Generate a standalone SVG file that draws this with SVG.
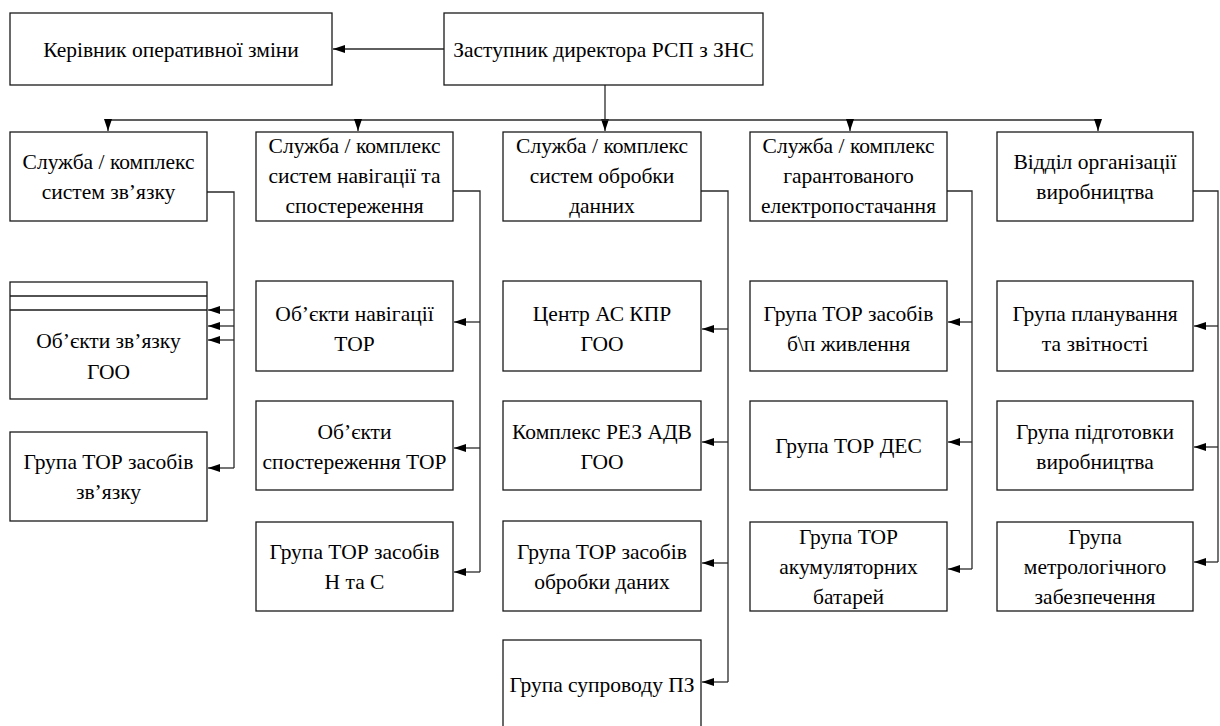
<svg xmlns="http://www.w3.org/2000/svg" width="1220" height="726" viewBox="0 0 1220 726">
  <style>
    .box { fill: #ffffff; stroke: #1a1a1a; stroke-width: 1.3; }
    .lbl { font-size: 21.5px; fill: #000000; text-anchor: middle; }
    .wire { fill: none; stroke: #2a2a2a; stroke-width: 1.3; }
    .arr { marker-end: url(#head); }
  </style>
  <defs>
    <marker id="head" markerUnits="userSpaceOnUse" markerWidth="13" markerHeight="9" refX="12" refY="4" orient="auto">
      <path d="M0,0 L12,4 L0,8 Z" fill="#000000"/>
    </marker>
  </defs>
  <rect x="0" y="0" width="1220" height="726" fill="#ffffff"/>

  <!-- connectors -->
  <g id="connectors">
    <!-- top level -->
    <line class="wire arr" x1="444" y1="49" x2="333" y2="49"/>
    <line class="wire arr" x1="605" y1="85" x2="605" y2="131"/>
    <line class="wire" x1="108" y1="120" x2="1098" y2="120"/>
    <line class="wire arr" x1="108" y1="120" x2="108" y2="131"/>
    <line class="wire arr" x1="358" y1="120" x2="358" y2="131"/>
    <line class="wire arr" x1="850" y1="120" x2="850" y2="131"/>
    <line class="wire arr" x1="1098" y1="120" x2="1098" y2="131"/>

    <!-- column 1 -->
    <polyline class="wire" points="207,192 234,192 234,468"/>
    <line class="wire arr" x1="234" y1="310" x2="208" y2="310"/>
    <line class="wire arr" x1="234" y1="326" x2="208" y2="326"/>
    <line class="wire arr" x1="234" y1="340" x2="208" y2="340"/>
    <line class="wire arr" x1="234" y1="468" x2="208" y2="468"/>

    <!-- column 2 -->
    <polyline class="wire" points="453,191 480,191 480,572"/>
    <line class="wire arr" x1="480" y1="322" x2="454" y2="322"/>
    <line class="wire arr" x1="480" y1="448" x2="454" y2="448"/>
    <line class="wire arr" x1="480" y1="572" x2="454" y2="572"/>

    <!-- column 3 -->
    <polyline class="wire" points="701,191 728,191 728,682"/>
    <line class="wire arr" x1="728" y1="329" x2="702" y2="329"/>
    <line class="wire arr" x1="728" y1="442" x2="702" y2="442"/>
    <line class="wire arr" x1="728" y1="563" x2="702" y2="563"/>
    <line class="wire arr" x1="728" y1="682" x2="702" y2="682"/>

    <!-- column 4 -->
    <polyline class="wire" points="947,191 972,191 972,569"/>
    <line class="wire arr" x1="972" y1="322" x2="948" y2="322"/>
    <line class="wire arr" x1="972" y1="442" x2="948" y2="442"/>
    <line class="wire arr" x1="972" y1="569" x2="948" y2="569"/>

    <!-- column 5 -->
    <polyline class="wire" points="1193,191 1218,191 1218,562"/>
    <line class="wire arr" x1="1218" y1="326" x2="1194" y2="326"/>
    <line class="wire arr" x1="1218" y1="447" x2="1194" y2="447"/>
    <line class="wire arr" x1="1218" y1="562" x2="1194" y2="562"/>
  </g>

  <!-- top row -->
  <g id="n-kerivnyk">
    <rect class="box" x="10" y="13" width="322" height="72"/>
    <text class="lbl" style="font-family:'Liberation Serif'" x="171" y="57">Керівник оперативної зміни</text>
  </g>
  <g id="n-zastupnyk">
    <rect class="box" x="444" y="13" width="319" height="72"/>
    <text class="lbl" style="font-family:'Liberation Serif'" x="603.5" y="57">Заступник директора РСП з ЗНС</text>
  </g>

  <!-- heads of columns -->
  <g id="n-zviazok">
    <rect class="box" x="10" y="132" width="197" height="89"/>
    <text class="lbl" style="font-family:'Liberation Serif'"><tspan x="108.5" y="169">Служба / комплекс</tspan><tspan x="108.5" y="199">систем зв’язку</tspan></text>
  </g>
  <g id="n-navihatsiia">
    <rect class="box" x="256" y="132" width="197" height="89"/>
    <text class="lbl" style="font-family:'Liberation Serif'"><tspan x="354.5" y="153">Служба / комплекс</tspan><tspan x="354.5" y="183">систем навігації та</tspan><tspan x="354.5" y="213">спостереження</tspan></text>
  </g>
  <g id="n-obrobka">
    <rect class="box" x="503" y="132" width="198" height="89"/>
    <text class="lbl" style="font-family:'Liberation Serif'"><tspan x="602" y="153">Служба / комплекс</tspan><tspan x="602" y="183">систем обробки</tspan><tspan x="602" y="213">данних</tspan></text>
  </g>
  <g id="n-elektro">
    <rect class="box" x="750" y="132" width="197" height="89"/>
    <text class="lbl" style="font-family:'Liberation Serif'"><tspan x="848.5" y="153">Служба / комплекс</tspan><tspan x="848.5" y="183">гарантованого</tspan><tspan x="848.5" y="213">електропостачання</tspan></text>
  </g>
  <g id="n-vyrobnytstvo">
    <rect class="box" x="997" y="132" width="196" height="89"/>
    <text class="lbl" style="font-family:'Liberation Serif'"><tspan x="1095" y="169">Відділ організації</tspan><tspan x="1095" y="199">виробництва</tspan></text>
  </g>

  <!-- column 1 -->
  <g id="n-obiekty-zviazku">
    <rect class="box" x="10" y="282" width="197" height="117"/>
    <line class="box" x1="10" y1="296" x2="207" y2="296"/>
    <line class="box" x1="10" y1="310" x2="207" y2="310"/>
    <text class="lbl" style="font-family:'Liberation Serif'"><tspan x="108.5" y="348">Об’єкти зв’язку</tspan><tspan x="108.5" y="379">ГОО</tspan></text>
  </g>
  <g id="n-tor-zviazku">
    <rect class="box" x="10" y="432" width="197" height="89"/>
    <text class="lbl" style="font-family:'Liberation Serif'"><tspan x="108.5" y="469">Група ТОР засобів</tspan><tspan x="108.5" y="499">зв’язку</tspan></text>
  </g>

  <!-- column 2 -->
  <g id="n-obiekty-navihatsii">
    <rect class="box" x="256" y="281" width="197" height="90"/>
    <text class="lbl" style="font-family:'Liberation Serif'"><tspan x="354.5" y="321">Об’єкти навігації</tspan><tspan x="354.5" y="351">ТОР</tspan></text>
  </g>
  <g id="n-obiekty-sposterezhennia">
    <rect class="box" x="256" y="401" width="197" height="89"/>
    <text class="lbl" style="font-family:'Liberation Serif'"><tspan x="354.5" y="439">Об’єкти</tspan><tspan x="354.5" y="469">спостереження ТОР</tspan></text>
  </g>
  <g id="n-tor-ns">
    <rect class="box" x="256" y="522" width="197" height="89"/>
    <text class="lbl" style="font-family:'Liberation Serif'"><tspan x="354.5" y="559">Група ТОР засобів</tspan><tspan x="354.5" y="589">Н та С</tspan></text>
  </g>

  <!-- column 3 -->
  <g id="n-tsentr-as">
    <rect class="box" x="503" y="281" width="198" height="90"/>
    <text class="lbl" style="font-family:'Liberation Serif'"><tspan x="602" y="321">Центр АС КПР</tspan><tspan x="602" y="351">ГОО</tspan></text>
  </g>
  <g id="n-kompleks-rez">
    <rect class="box" x="503" y="401" width="198" height="89"/>
    <text class="lbl" style="font-family:'Liberation Serif'"><tspan x="602" y="439">Комплекс РЕЗ АДВ</tspan><tspan x="602" y="469">ГОО</tspan></text>
  </g>
  <g id="n-tor-obrobky">
    <rect class="box" x="503" y="521" width="198" height="90"/>
    <text class="lbl" style="font-family:'Liberation Serif'"><tspan x="602" y="559">Група ТОР засобів</tspan><tspan x="602" y="589">обробки даних</tspan></text>
  </g>
  <g id="n-suprovid-pz">
    <rect class="box" x="503" y="640" width="198" height="92"/>
    <text class="lbl" style="font-family:'Liberation Serif'" x="602" y="692">Група супроводу ПЗ</text>
  </g>

  <!-- column 4 -->
  <g id="n-tor-bp">
    <rect class="box" x="750" y="281" width="197" height="90"/>
    <text class="lbl" style="font-family:'Liberation Serif'"><tspan x="848.5" y="321">Група ТОР засобів</tspan><tspan x="848.5" y="351">б\п живлення</tspan></text>
  </g>
  <g id="n-tor-des">
    <rect class="box" x="750" y="401" width="197" height="89"/>
    <text class="lbl" style="font-family:'Liberation Serif'" x="848.5" y="453">Група ТОР ДЕС</text>
  </g>
  <g id="n-tor-akb">
    <rect class="box" x="750" y="522" width="197" height="89"/>
    <text class="lbl" style="font-family:'Liberation Serif'"><tspan x="848.5" y="544">Група ТОР</tspan><tspan x="848.5" y="574">акумуляторних</tspan><tspan x="848.5" y="604">батарей</tspan></text>
  </g>

  <!-- column 5 -->
  <g id="n-planuvannia">
    <rect class="box" x="997" y="281" width="196" height="90"/>
    <text class="lbl" style="font-family:'Liberation Serif'"><tspan x="1095" y="321">Група планування</tspan><tspan x="1095" y="351">та звітності</tspan></text>
  </g>
  <g id="n-pidhotovka">
    <rect class="box" x="997" y="401" width="196" height="89"/>
    <text class="lbl" style="font-family:'Liberation Serif'"><tspan x="1095" y="439">Група підготовки</tspan><tspan x="1095" y="469">виробництва</tspan></text>
  </g>
  <g id="n-metrolohiia">
    <rect class="box" x="997" y="522" width="196" height="89"/>
    <text class="lbl" style="font-family:'Liberation Serif'"><tspan x="1095" y="544">Група</tspan><tspan x="1095" y="574">метрологічного</tspan><tspan x="1095" y="604">забезпечення</tspan></text>
  </g>
</svg>
